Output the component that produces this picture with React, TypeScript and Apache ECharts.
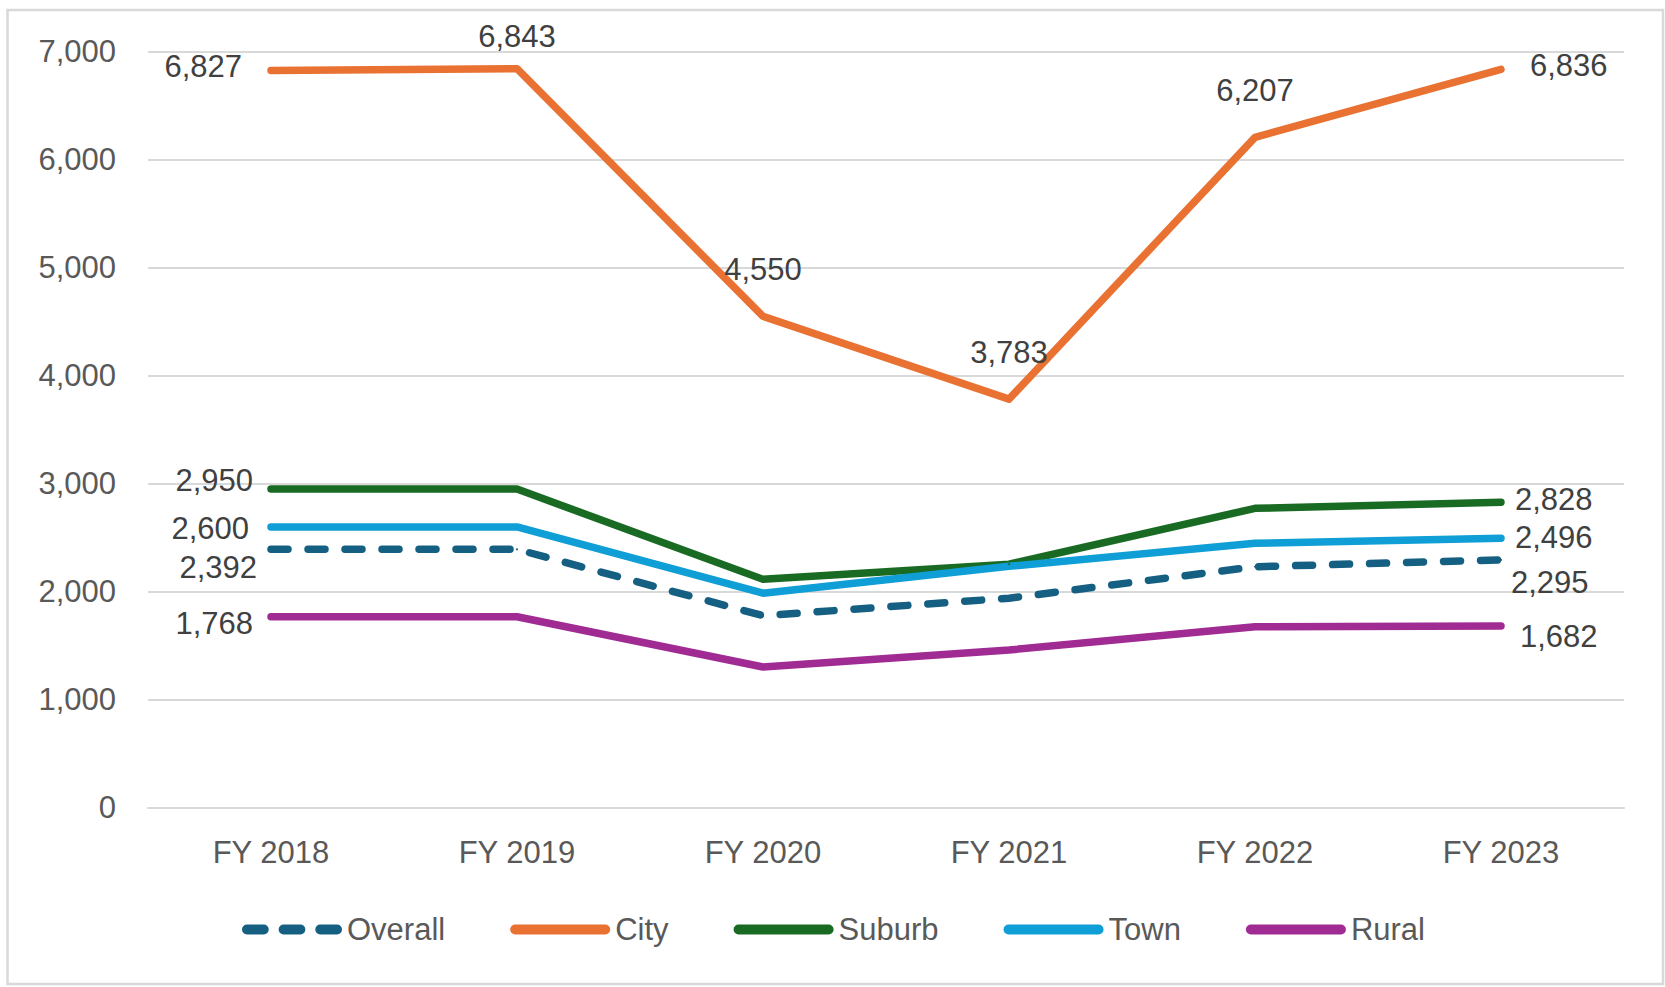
import React, { useEffect, useRef } from "react";
import * as echarts from "echarts";

const years = ["FY 2018", "FY 2019", "FY 2020", "FY 2021", "FY 2022", "FY 2023"];
const overall = [2392, 2392, 1778, 1940, 2231, 2295];
const city = [6827, 6843, 4550, 3783, 6207, 6836];
const suburb = [2950, 2950, 2115, 2255, 2772, 2828];
const town = [2600, 2600, 1986, 2235, 2448, 2496];
const rural = [1768, 1768, 1303, 1460, 1676, 1682];
const seriesNames = ["Overall", "City", "Suburb", "Town", "Rural"];
const yMin = 0;
const yMax = 7000;
const yStep = 1000;

const colors: Record<string, string> = {
  Overall: "#156082",
  City: "#E97132",
  Suburb: "#196B24",
  Town: "#0F9ED5",
  Rural: "#A02B93",
};

type Spec = { position: string; distance: number; dy?: number } | null;
const labelPlacement: Record<string, Spec[]> = {
  Overall: [{ position: "left", distance: 13, dy: 18 }, null, null, null, null, { position: "right", distance: 9, dy: 23 }],
  City: [
    { position: "left", distance: 28, dy: -4 },
    { position: "top", distance: 16 },
    { position: "top", distance: 30 },
    { position: "top", distance: 30 },
    { position: "top", distance: 30 },
    { position: "right", distance: 28, dy: -4 },
  ],
  Suburb: [{ position: "left", distance: 17, dy: -9 }, null, null, null, null, { position: "right", distance: 13, dy: -3 }],
  Town: [{ position: "left", distance: 21, dy: 2 }, null, null, null, null, { position: "right", distance: 13, dy: -1 }],
  Rural: [{ position: "left", distance: 17, dy: 7 }, null, null, null, null, { position: "right", distance: 18, dy: 10 }],
};

const FONT = "'Liberation Sans', Arial, sans-serif";
const fmt = (v: number) => Number(v).toLocaleString("en-US");

const pill = (x: number, w: number) =>
  `M${x + 5},0 h${w - 10} a5,5 0 0 1 0,10 h-${w - 10} a5,5 0 0 1 0,-10 z`;
const solidIcon = "path://" + pill(0, 100);
const dashIcon = "path://" + pill(0, 27) + " " + pill(37, 27) + " " + pill(74, 27);

function buildData(values: number[], specs: Spec[]) {
  return values.map((v, i) => {
    const s = specs[i];
    if (!s) return v;
    return {
      value: v,
      label: { show: true, position: s.position, distance: s.distance, offset: [0, s.dy ?? 0] },
    };
  });
}

export default function App() {
  const ref = useRef<HTMLDivElement>(null);
  useEffect(() => {
    if (!ref.current) return;
    const chart = echarts.init(ref.current, undefined, { renderer: "svg" });
    const valuesByName: Record<string, number[]> = {
      Overall: overall,
      City: city,
      Suburb: suburb,
      Town: town,
      Rural: rural,
    };
    const series = seriesNames.map((name) => ({
      type: "line",
      name,
      data: buildData(valuesByName[name], labelPlacement[name]),
      symbol: "circle",
      symbolSize: 2,
      showSymbol: true,
      itemStyle: { color: colors[name] },
      lineStyle: {
        color: colors[name],
        width: 7.5,
        cap: "round",
        join: "round",
        type: name === "Overall" ? [17, 20] : "solid",
      },
      label: {
        show: false,
        color: "#404040",
        fontSize: 31,
        fontFamily: FONT,
        formatter: (p: any) => fmt(p.value),
      },
      emphasis: { disabled: true },
    }));

    chart.setOption({
      animation: false,
      backgroundColor: "#ffffff",
      textStyle: { fontFamily: FONT },
      grid: { left: 148, right: 41, top: 51.7, bottom: 179.3, containLabel: false },
      xAxis: {
        type: "category",
        data: years,
        boundaryGap: true,
        axisLine: { show: true, lineStyle: { color: "#d9d9d9", width: 2 } },
        axisTick: { show: false },
        axisLabel: { color: "#595959", fontSize: 31, margin: 29, fontFamily: FONT },
      },
      yAxis: {
        type: "value",
        min: yMin,
        max: yMax,
        interval: yStep,
        axisLine: { show: false },
        axisTick: { show: false },
        splitLine: { show: true, lineStyle: { color: "#d9d9d9", width: 2 } },
        axisLabel: {
          color: "#595959",
          fontSize: 31,
          margin: 32,
          fontFamily: FONT,
          formatter: (v: number) => fmt(v),
        },
      },
      legend: {
        left: 242,
        top: 914,
        padding: 0,
        itemWidth: 100,
        itemHeight: 10,
        itemGap: 65,
        selectedMode: false,
        itemStyle: { borderWidth: 0 },
        textStyle: { color: "#595959", fontSize: 31, fontFamily: FONT },
        data: seriesNames.map((n) => ({ name: n, icon: n === "Overall" ? dashIcon : solidIcon })),
      },
      graphic: [
        {
          type: "rect",
          shape: { x: 7.5, y: 10, width: 1655.5, height: 974 },
          style: { fill: "none", stroke: "#d9d9d9", lineWidth: 2.5 },
          silent: true,
          z: -1,
        },
      ],
      series,
    });
    return () => chart.dispose();
  }, []);
  return (
    <div
      ref={ref}
      style={{ position: "fixed", left: 0, top: 0, width: 1665, height: 987 }}
    />
  );
}
